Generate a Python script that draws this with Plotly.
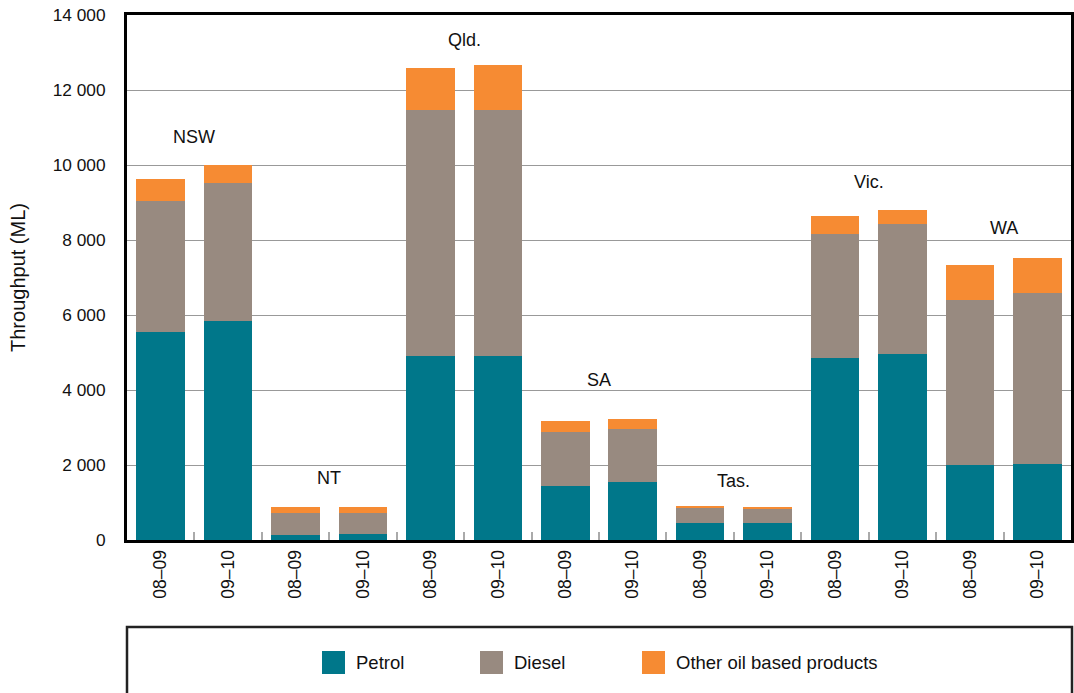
import plotly.graph_objects as go

states = ["NSW", "NT", "Qld.", "SA", "Tas.", "Vic.", "WA"]
years = ["08–09", "09–10"]
# values per bar (ML), order: NSW 08-09, NSW 09-10, NT 08-09, ...
petrol = [5560, 5830, 140, 165, 4920, 4915, 1440, 1550, 453, 453, 4850, 4960, 2005, 2035]
diesel = [3490, 3700, 590, 565, 6560, 6540, 1450, 1410, 410, 400, 3310, 3470, 4395, 4550]
other = [590, 470, 160, 160, 1120, 1225, 290, 270, 45, 27, 480, 370, 935, 935]

state_label_y = [10750, 1650, 13340, 4270, 1570, 9540, 8330]

tick_labels = [y for _ in states for y in years]
xpos = list(range(len(tick_labels)))

C_PETROL = "#00778A"
C_DIESEL = "#988A80"
C_OTHER = "#F68B33"
FONT = "Liberation Sans, Arial, sans-serif"

W, H = 1074, 693
ML, MR, MT, MB = 127, 3, 15, 153
PW, PH = W - ML - MR, H - MT - MB


def px_x(p):
    return (p - ML) / PW


def px_y(p):
    return (H - MB - p) / PH


fig = go.Figure()
for name, vals, col in [("Petrol", petrol, C_PETROL), ("Diesel", diesel, C_DIESEL),
                        ("Other oil based products", other, C_OTHER)]:
    fig.add_trace(go.Bar(x=xpos, y=vals, name=name, marker=dict(color=col, line=dict(width=0)),
                         showlegend=False))

annotations = []
for i, s in enumerate(states):
    annotations.append(dict(x=2 * i + 0.5, y=state_label_y[i], xref="x", yref="y", text=s,
                            showarrow=False, font=dict(size=18, color="#111", family=FONT)))

# legend box and items
shapes = [dict(type="rect", xref="paper", yref="paper", x0=px_x(127), x1=px_x(1072),
               y0=px_y(627), y1=px_y(700), line=dict(color="#222", width=2.5),
               fillcolor="rgba(0,0,0,0)", layer="above")]
legend_items = [("Petrol", C_PETROL, 322), ("Diesel", C_DIESEL, 480),
                ("Other oil based products", C_OTHER, 642)]
for txt, col, x0 in legend_items:
    shapes.append(dict(type="rect", xref="paper", yref="paper", x0=px_x(x0), x1=px_x(x0 + 23),
                       y0=px_y(674), y1=px_y(651), fillcolor=col, line=dict(width=0)))
    annotations.append(dict(x=px_x(x0 + 32), y=px_y(662.5), xref="paper", yref="paper",
                            text=txt, showarrow=False, xanchor="left", yanchor="middle",
                            font=dict(size=18.5, color="#111", family=FONT)))

yticks = list(range(0, 14001, 2000))
yticktext = [f"{v:,}".replace(",", " ") for v in yticks]

fig.update_layout(
    width=W, height=H,
    margin=dict(l=ML, r=MR, t=MT, b=MB, autoexpand=False),
    paper_bgcolor="white", plot_bgcolor="white",
    barmode="stack", bargap=0.28,
    font=dict(family=FONT, size=17, color="#111"),
    annotations=annotations, shapes=shapes,
    xaxis=dict(range=[-0.5, 13.5], tickmode="array", tickvals=xpos, ticktext=tick_labels,
               tickangle=-90, ticks="", showgrid=False, zeroline=False,
               showline=True, linecolor="black", linewidth=3, mirror=True,
               tickfont=dict(size=17.5, family=FONT, color="#111"),
               minor=dict(tickmode="array", tickvals=[i + 0.5 for i in range(13)],
                          ticks="inside", ticklen=8, tickcolor="#aaa", tickwidth=1.5,
                          showgrid=False)),
    yaxis=dict(range=[0, 14000], tickmode="array", tickvals=yticks, ticktext=yticktext,
               showgrid=True, gridcolor="#999", gridwidth=1, zeroline=False,
               showline=True, linecolor="black", linewidth=3, mirror=True,
               ticks="", ticklabelstandoff=15,
               tickfont=dict(size=17.3, family=FONT, color="#111"),
               title=dict(text="Throughput (ML)", standoff=22,
                          font=dict(size=20, family=FONT, color="#111"))),
)

fig.write_html("out.html", config={"displayModeBar": False})
with open("out.html", encoding="utf-8") as f:
    html = f.read()
html = html.replace("<head>", "<head><style>html,body{margin:0;padding:0;overflow:hidden;}</style>", 1)
with open("out.html", "w", encoding="utf-8") as f:
    f.write(html)
